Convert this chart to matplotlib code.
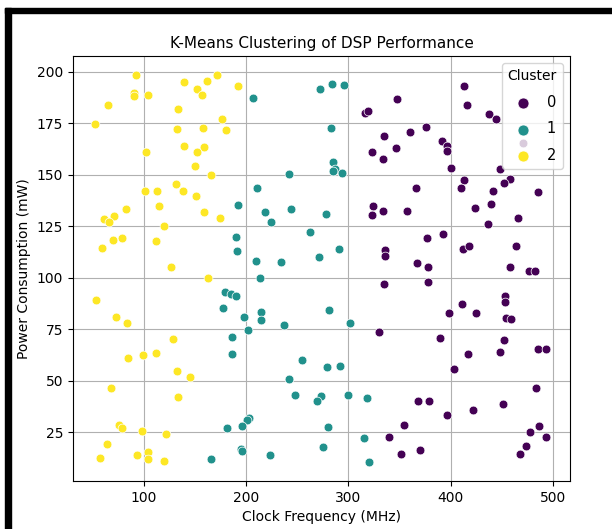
"""K-Means clustering scatter of DSP performance."""

import matplotlib
matplotlib.use('Agg')
import matplotlib.pyplot as plt
from matplotlib.patches import Rectangle

# Cluster 0 (purple)
c0_freq = [316.0, 318.9, 322.8, 324.4, 323.4, 347.6, 413.4, 416.3, 437.9, 444.4,
           334.5, 360.3, 376.2, 391.9, 396.8, 396.2, 346.6, 334.1, 400.4, 413.4,
           410.5, 448.6, 457.8, 452.5, 441.8, 485.8, 365.9, 333.9, 357.3, 423.9,
           439.2, 465.6, 436.6, 376.9, 392.3, 336.1, 336.1, 412.1, 417.7, 464.3,
           367.4, 377.6, 458.4, 476.7, 482.3, 334.5, 377.6, 452.9, 452.9, 411.4,
           398.1, 425.1, 454.5, 458.8, 329.9, 389.3, 452.2, 448.6, 485.8, 493.6,
           417.0, 403.3, 483.9, 368.1, 378.9, 451.0, 396.2, 422.2, 354.1, 339.7,
           486.8, 477.4, 493.1, 474.1, 467.9, 351.8, 370.4, 470.8]
c0_power = [180.0, 181.2, 161.2, 135.1, 130.4, 186.7, 193.2, 183.8, 179.4, 177.1,
            169.1, 170.6, 173.2, 166.5, 164.2, 161.8, 162.9, 157.6, 153.5, 147.3,
            143.6, 152.7, 147.8, 145.9, 142.3, 141.7, 143.6, 132.4, 132.7, 133.7,
            136.1, 129.3, 126.3, 119.4, 121.2, 113.4, 110.7, 114.1, 115.3, 115.5,
            107.0, 105.1, 105.4, 103.3, 103.1, 96.8, 98.0, 91.4, 88.1, 87.5,
            82.9, 83.1, 80.3, 80.0, 73.9, 70.9, 69.9, 64.1, 65.6, 65.4,
            63.1, 56.0, 46.7, 40.0, 40.2, 39.0, 33.5, 36.1, 28.6, 22.8,
            28.0, 25.4, 22.6, 18.2, 14.3, 14.5, 16.3, 165.6]

# Cluster 1 (teal)
c1_freq = [191.7, 189.7, 191.0, 206.7, 272.5, 283.7, 295.4, 283.0, 284.9, 287.2,
           284.9, 294.0, 241.6, 210.9, 218.4, 244.1, 278.1, 224.3, 262.1, 290.8,
           271.5, 209.9, 234.1, 213.2, 179.5, 185.1, 189.7, 177.6, 198.1, 214.8,
           214.2, 237.3, 280.7, 301.9, 202.1, 186.4, 186.4, 254.9, 279.1, 292.1,
           241.6, 247.7, 273.2, 269.6, 299.3, 318.5, 202.7, 200.5, 181.2, 195.9,
           279.7, 315.0, 194.6, 195.9, 275.4, 165.9, 223.3, 320.2]
c1_power = [135.5, 119.9, 112.9, 187.3, 191.7, 194.0, 193.4, 172.9, 156.4, 152.7,
            151.9, 150.9, 150.4, 143.4, 132.2, 133.4, 131.2, 127.0, 122.3, 113.9,
            109.9, 108.3, 107.8, 99.9, 93.2, 92.4, 91.4, 85.6, 81.2, 83.6,
            79.5, 77.3, 84.4, 78.2, 74.5, 71.4, 62.9, 60.0, 56.6, 57.1,
            50.7, 43.1, 42.6, 40.3, 43.3, 41.8, 31.9, 30.9, 27.3, 28.0,
            27.5, 22.4, 17.1, 15.8, 17.9, 12.2, 13.9, 10.4]

# Cluster 2 (yellow)
c2_freq = [91.9, 139.4, 161.6, 171.7, 151.6, 156.5, 90.2, 90.5, 104.2, 65.1,
           133.0, 51.8, 176.0, 180.2, 132.3, 157.4, 101.7, 139.1, 158.4, 152.2,
           149.6, 165.6, 131.3, 137.9, 100.7, 113.0, 151.2, 114.7, 82.7, 158.4,
           174.7, 60.6, 70.6, 66.0, 119.9, 78.5, 69.7, 112.0, 58.9, 192.3,
           126.4, 162.6, 52.7, 72.6, 83.1, 128.1, 99.0, 111.4, 84.3, 132.0,
           145.0, 67.7, 133.3, 75.2, 78.2, 97.7, 121.8, 63.8, 57.0, 93.2,
           103.6, 103.6, 119.9]
c2_power = [198.4, 195.1, 195.8, 198.4, 191.9, 189.0, 189.8, 188.3, 189.0, 184.1,
            182.1, 174.8, 176.9, 171.6, 172.2, 172.9, 161.3, 164.2, 163.6, 161.2,
            154.1, 149.8, 145.6, 142.4, 142.4, 142.4, 139.9, 135.1, 133.5, 132.2,
            129.0, 128.5, 130.0, 127.0, 125.1, 119.5, 118.4, 118.0, 114.3, 193.0,
            105.4, 99.7, 89.5, 80.8, 77.9, 70.2, 62.8, 63.3, 61.2, 54.6,
            52.0, 46.7, 42.4, 28.8, 27.3, 25.7, 24.2, 19.2, 12.7, 14.1,
            15.5, 11.9, 11.1]

clusters = ['0', '1', '2']
colors = ['#440154', '#21918c', '#fde725']

fig = plt.figure(figsize=(6.12, 5.29), dpi=100)
ax = fig.add_axes([73 / 612, 48 / 529, 497 / 612, 425 / 529])

series = [(c0_freq, c0_power), (c1_freq, c1_power), (c2_freq, c2_power)]
for (xs, ys), lab, col in zip(series, clusters, colors):
    ax.scatter(xs, ys, s=40, color=col, edgecolors='white', linewidths=0.5,
               label=lab, zorder=3)

ax.set_xlim(30.5, 516.9)
ax.set_ylim(1.4, 207.7)
ax.grid(True, color='#b0b0b0', linewidth=0.8)
ax.set_axisbelow(True)

ax.set_title('K-Means Clustering of DSP Performance', fontsize=11)
ax.set_xlabel('Clock Frequency (MHz)', fontsize=10)
ax.set_ylabel('Power Consumption (mW)', fontsize=10)

ax.legend(title='Cluster', loc='upper right', fontsize=10.5, title_fontsize=10,
          markerscale=1.25, labelspacing=0.8, handletextpad=0.6)

# black screenshot frame on the left and top
fig.patches.append(Rectangle((5 / 612, 0), 6 / 612, 521 / 529,
                             transform=fig.transFigure, color='black'))
fig.patches.append(Rectangle((5 / 612, 516 / 529), 607 / 612, 5 / 529,
                             transform=fig.transFigure, color='black'))

plt.savefig('out.png', dpi=100)
